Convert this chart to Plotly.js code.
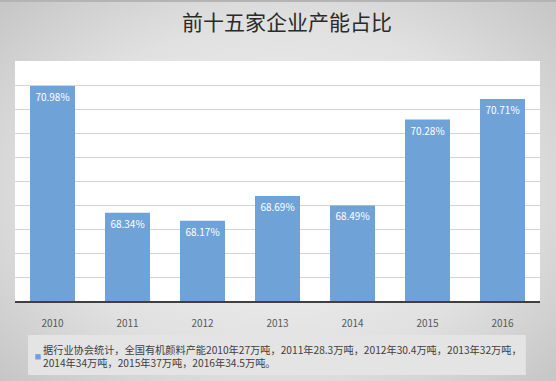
<!DOCTYPE html>
<html>
<head>
<meta charset="utf-8">
<script src="https://cdn.plot.ly/plotly-3.0.1.min.js"></script>
<style>
html,body{margin:0;padding:0;}
#wrap{width:556px;height:381px;box-sizing:border-box;border-top:2px solid #b4b4b4;
background:radial-gradient(ellipse 70% 75% at 50% 50%, #f6f6f6 0%, #e0e0e0 60%, #c4c4c4 100%);}
#chart{width:556px;height:379px;}
</style>
</head>
<body>
<div id="wrap"><div id="chart"></div></div>
<script>
const years = ['2010','2011','2012','2013','2014','2015','2016'];
const shares = [70.98, 68.34, 68.17, 68.69, 68.49, 70.28, 70.71];
const labels = ['70.98%','68.34%','68.17%','68.69%','68.49%','70.28%','70.71%'];
const seriesName = '据行业协会统计，全国有机颜料产能2010年27万吨，2011年28.3万吨，2012年30.4万吨，2013年32万吨，<br>2014年34万吨，2015年37万吨，2016年34.5万吨。';
const chartTitle = '前十五家企业产能占比';

const font = 'Noto Sans CJK SC, Noto Sans, sans-serif';
const trace = {
  type: 'bar',
  x: years,
  y: shares,
  text: labels,
  textposition: 'inside',
  insidetextanchor: 'end',
  textangle: 0,
  textfont: {family: font, size: 10, color: '#ffffff'},
  constraintext: 'none',
  marker: {color: '#6fa3d8'},
  width: 0.6,
  name: seriesName,
  showlegend: true,
  hoverinfo: 'none',
  cliponaxis: true
};

const layout = {
  width: 556, height: 379,
  margin: {l: 15, r: 16, t: 59, b: 80},
  paper_bgcolor: 'rgba(0,0,0,0)',
  plot_bgcolor: '#ffffff',
  title: {text: chartTitle, font: {family: font, size: 21, color: '#2a2a2a'},
          x: 0.516, xref: 'container', xanchor: 'center', y: 0.945, yref: 'container', yanchor: 'middle'},
  xaxis: {
    type: 'category',
    showline: true, linecolor: '#404040', linewidth: 2,
    ticks: 'outside', ticklen: 12, tickcolor: 'rgba(0,0,0,0)',
    tickfont: {family: font, size: 10, color: '#595959'},
    showgrid: false, fixedrange: true
  },
  yaxis: {
    range: [66.5, 71.5], dtick: 0.5, tick0: 66.5,
    showticklabels: false, ticks: '',
    showgrid: true, gridcolor: '#d4d4d4', gridwidth: 1,
    zeroline: false, showline: false, fixedrange: true
  },
  showlegend: true,
  legend: {
    orientation: 'h',
    xref: 'container', yref: 'container',
    x: 0.0054, xanchor: 'left',
    y: 0.116, yanchor: 'top',
    bgcolor: 'rgba(0,0,0,0)',
    font: {family: font, size: 10.2, color: '#404040'},
    itemwidth: 30
  },
  shapes: [{
    type: 'rect', xref: 'paper', yref: 'paper',
    x0: 0.0248, x1: 0.973, y0: -0.1417, y1: -0.308,
    fillcolor: '#e4e4e4', line: {width: 0}, layer: 'below'
  }],
  bargap: 0.4
};

Plotly.newPlot('chart', [trace], layout, {displayModeBar: false, staticPlot: true}).then(function (gd) {
  gd.querySelectorAll('.legendpoints path').forEach(function (p) {
    p.setAttribute('transform', 'translate(35,0) scale(0.45)');
  });
});
</script>
</body>
</html>
